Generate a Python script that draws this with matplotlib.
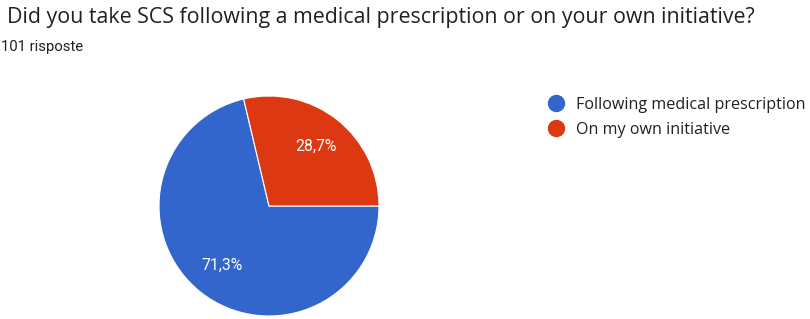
import matplotlib.pyplot as plt
from matplotlib.lines import Line2D
import numpy as np

# data
labels = ['Following medical prescription', 'On my own initiative']
values = [71.3, 28.7]
colors = ['#3366CC', '#DC3912']
title = 'Did you take SCS following a medical prescription or on your own initiative?'
subtitle = '101 risposte'

W, H = 810, 319
fig = plt.figure(figsize=(W / 100, H / 100), dpi=100)
fig.patch.set_facecolor('white')

# pie axes placed in pixels: center (269, 206), radius ~110
cx, cy, r = 269, 206, 110
ax = fig.add_axes([(cx - r) / W, (H - cy - r) / H, 2 * r / W, 2 * r / H])
wedges, texts = ax.pie(values, colors=colors, startangle=0, counterclock=False,
                       wedgeprops=dict(edgecolor='white', linewidth=0.8))
ax.set_xlim(-1, 1)
ax.set_ylim(-1, 1)
ax.set_aspect('auto')
ax.axis('off')

# percentage labels
start = 0
for v in values:
    mid = start - v / 100 * 360 / 2
    ang = np.deg2rad(mid)
    ax.text(0.69 * np.cos(ang), 0.69 * np.sin(ang), f'{v:.1f}%'.replace('.', ','),
            ha='center', va='center', color='white', fontsize=11.3, family='Roboto')
    start -= v / 100 * 360

fig.text(7 / W, 1 - 17 / H, title, ha='left', va='center', fontsize=15.4,
         family='Open Sans', color='#202124')
fig.text(1 / W, 1 - 47 / H, subtitle, ha='left', va='center', fontsize=10.7,
         family='Roboto', color='#202124')

handles = [Line2D([], [], marker='o', linestyle='none', markersize=11.5,
                  markerfacecolor=c, markeredgecolor=c) for c in colors]
leg = fig.legend(handles, labels, loc='upper left', bbox_to_anchor=(548 / W, 1 - 97 / H),
                 frameon=False, prop=dict(family='Open Sans', size=11.6),
                 handlelength=1.0, handletextpad=0.75, labelspacing=0.55,
                 borderpad=0, borderaxespad=0)
for t in leg.get_texts():
    t.set_color('#202124')

fig.savefig('out.png', dpi=100)
